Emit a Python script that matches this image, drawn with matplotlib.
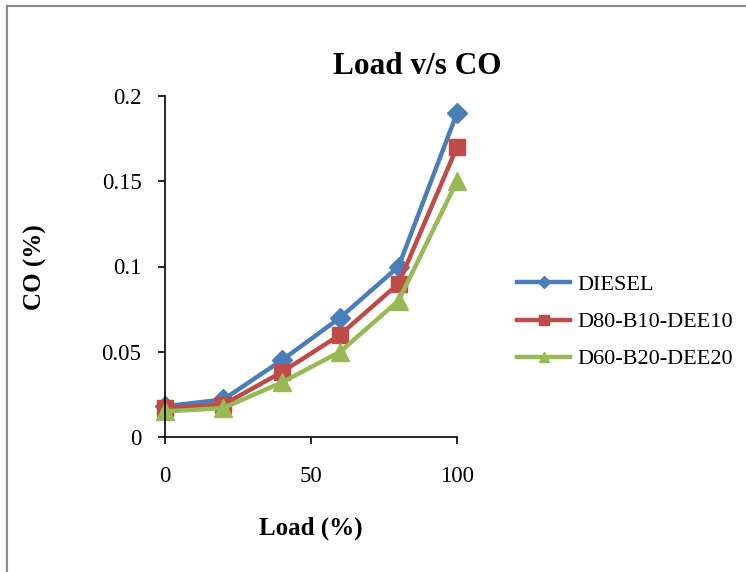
import matplotlib.pyplot as plt
from matplotlib.lines import Line2D
from matplotlib.ticker import FormatStrFormatter

# data
load = [0, 20, 40, 60, 80, 100]
diesel = [0.018, 0.022, 0.045, 0.070, 0.100, 0.190]
d80_b10_dee10 = [0.017, 0.019, 0.038, 0.060, 0.090, 0.170]
d60_b20_dee20 = [0.015, 0.017, 0.032, 0.050, 0.080, 0.150]
series_names = ['DIESEL', 'D80-B10-DEE10', 'D60-B20-DEE20']

plt.rcParams['font.family'] = ['Liberation Serif', 'DejaVu Serif']

fig = plt.figure(figsize=(7.46, 5.72), dpi=100)
ax = fig.add_axes([165/746, 1-437/572, (457-165)/746, (437-96)/572])

ax.plot(load, diesel, color='#4A7EBB', lw=3.2, marker='D', ms=10.5, label=series_names[0])
ax.plot(load, d80_b10_dee10, color='#BE4B48', lw=3.2, marker='s', ms=11.5, label=series_names[1])
ax.plot(load, d60_b20_dee20, color='#98B954', lw=3.2, marker='^', ms=12.5, label=series_names[2])

ax.set_xlim(0, 100)
ax.set_ylim(0, 0.2)
ax.set_xticks([0, 50, 100])
ax.set_yticks([0, 0.05, 0.1, 0.15, 0.2])
ax.yaxis.set_major_formatter(FormatStrFormatter('%g'))
ax.spines['top'].set_visible(False)
ax.spines['right'].set_visible(False)
for s in ['left', 'bottom']:
    ax.spines[s].set_linewidth(1.2)
ax.tick_params(axis='both', direction='out', length=5, width=1.2, labelsize=16.5)
ax.tick_params(axis='x', pad=16)
ax.tick_params(axis='y', pad=12)
for line in ax.get_lines():
    line.set_clip_on(False)

fig.text(417/746, 1-66/572, 'Load v/s CO', ha='center', va='center', fontsize=22.5, fontweight='bold')
fig.text(311/746, 1-528/572, 'Load (%)', ha='center', va='center', fontsize=18, fontweight='bold')
fig.text(35/746, 1-267/572, 'CO (%)', ha='center', va='center', rotation=90, fontsize=18, fontweight='bold')

ax.legend(loc='center left', bbox_to_anchor=(517/746, 1-322/572), bbox_transform=fig.transFigure,
          frameon=False, fontsize=16, borderpad=0, borderaxespad=0, handlelength=2.4,
          handletextpad=0.32, labelspacing=0.75, markerscale=0.6)

# chart border (gray frame, only top and left visible)
fig.add_artist(Line2D([7/746, 1.0], [1-6/572, 1-6/572], transform=fig.transFigure, color='#8C8C8C', lw=1.6))
fig.add_artist(Line2D([7/746, 7/746], [0.0, 1-6/572], transform=fig.transFigure, color='#8C8C8C', lw=1.6))

fig.savefig('out.png', dpi=100)
